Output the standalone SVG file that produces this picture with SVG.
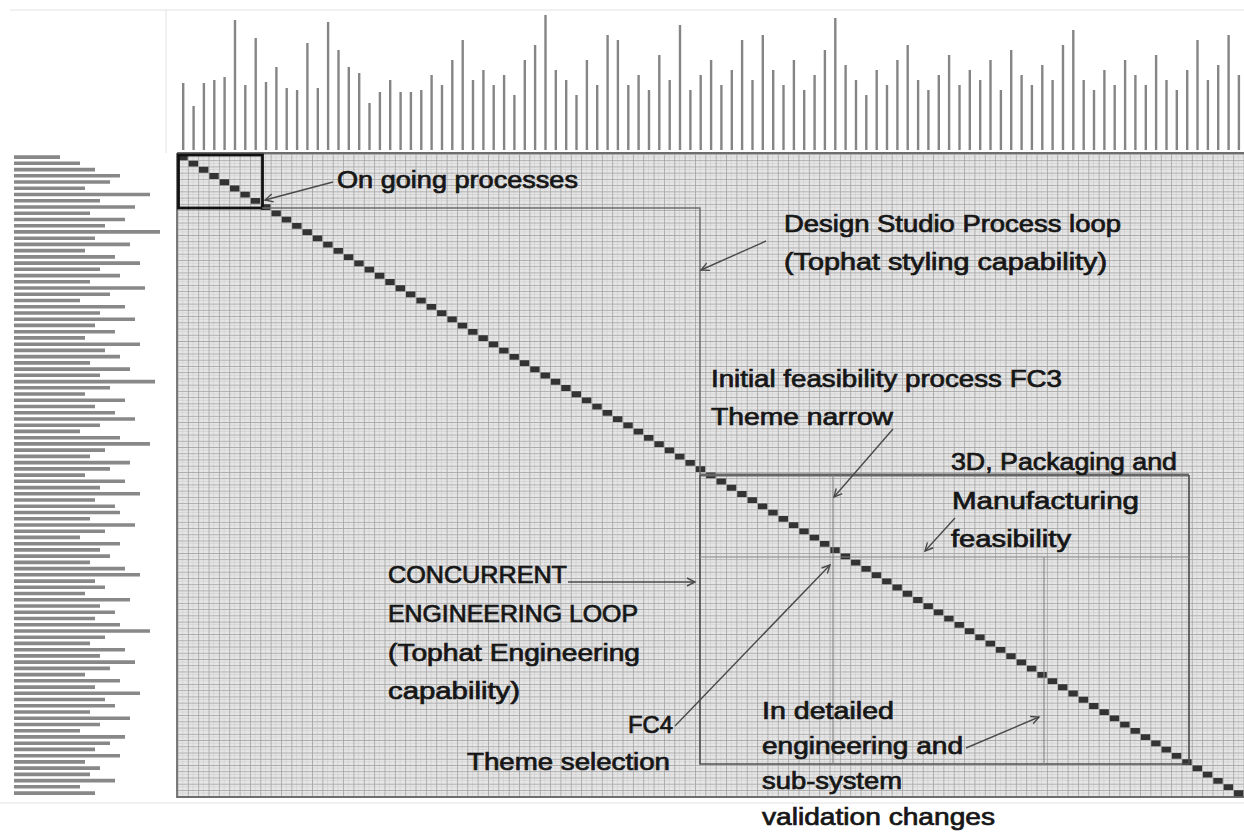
<svg xmlns="http://www.w3.org/2000/svg" width="1244" height="836" viewBox="0 0 1244 836">
<style>
.t{font-family:"Liberation Sans",Arial,sans-serif;font-size:23px;fill:#161616;stroke:#161616;stroke-width:0.7}
.conn{fill:none;stroke:#4a4a4a;stroke-width:1.4}
.blk{fill:none;stroke:#6e6e6e;stroke-width:1.5}
.inner{fill:none;stroke:#858585;stroke-width:1.1}
</style>
<defs>
<pattern id="cell" x="177.5" y="154" width="10.35" height="6.235" patternUnits="userSpaceOnUse">
<rect width="10.35" height="6.235" fill="#e6e6e6"/>
<path d="M5.2 0V6.235M0 3.1H10.35" stroke="#cdcdcd" stroke-width="0.6"/>
<path d="M0 0.4H10.35M0.4 0V6.235" stroke="#9e9e9e" stroke-width="0.8"/>
</pattern>
<marker id="ah" markerUnits="userSpaceOnUse" markerWidth="12" markerHeight="12" refX="9" refY="5" orient="auto">
<path d="M1 1L9 5L1 9" fill="none" stroke="#4a4a4a" stroke-width="1.4"/>
</marker>
</defs>
<rect width="1244" height="836" fill="#ffffff"/>
<g id="frame">
<path d="M10 10H1244M166 10V153M0 803H1244" stroke="#e2e2e2" stroke-width="1" fill="none"/>
</g>
<g id="matrix">
<rect x="177" y="153" width="1067" height="644" fill="url(#cell)"/>
<path d="M177 153V797H1244M177 153H1244" fill="none" stroke="#6e6e6e" stroke-width="1.8"/>
</g>
<g id="column-labels">
<path fill="none" stroke="#858585" stroke-width="2.4" d="M183.2 150V83M193.6 150V106M203.9 150V83M214.3 150V80M224.6 150V77M235.0 150V20M245.3 150V85M255.7 150V38M266.0 150V82M276.4 150V67M286.7 150V88M297.1 150V90M307.4 150V43M317.8 150V88M328.1 150V22M338.5 150V50M348.8 150V67M359.2 150V73M369.5 150V103M379.9 150V92M390.2 150V80M400.6 150V92M410.9 150V92M421.3 150V90M431.6 150V75M442.0 150V85M452.3 150V60M462.7 150V40M473.0 150V80M483.4 150V70M493.7 150V85M504.1 150V75M514.4 150V95M524.8 150V60M535.1 150V45M545.5 150V15M555.8 150V70M566.2 150V80M576.5 150V95M586.9 150V60M597.2 150V85M607.6 150V35M617.9 150V40M628.3 150V85M638.6 150V75M649.0 150V90M659.3 150V55M669.7 150V80M680.0 150V25M690.4 150V90M700.7 150V75M711.1 150V60M721.4 150V85M731.8 150V70M742.1 150V40M752.5 150V80M762.8 150V35M773.2 150V70M783.5 150V85M793.9 150V60M804.2 150V90M814.6 150V75M824.9 150V50M835.3 150V18M845.6 150V65M856.0 150V80M866.3 150V95M876.7 150V70M887.0 150V85M897.4 150V60M907.7 150V45M918.1 150V80M928.4 150V90M938.8 150V75M949.1 150V55M959.5 150V85M969.8 150V70M980.2 150V80M990.5 150V60M1000.9 150V90M1011.2 150V50M1021.6 150V75M1031.9 150V85M1042.3 150V65M1052.6 150V80M1063.0 150V45M1073.3 150V30M1083.7 150V80M1094.0 150V90M1104.4 150V70M1114.7 150V85M1125.1 150V60M1135.4 150V75M1145.8 150V85M1156.1 150V55M1166.5 150V80M1176.8 150V90M1187.2 150V70M1197.5 150V40M1207.9 150V80M1218.2 150V65M1228.6 150V35M1238.9 150V75"/>
</g>
<g id="row-labels">
<path fill="none" stroke="#888888" stroke-width="3.6" d="M14 157.1H60M14 163.3H80M14 169.6H95M14 175.8H120M14 182.0H110M14 188.3H85M14 194.5H150M14 200.7H100M14 207.0H135M14 213.2H90M14 219.5H125M14 225.7H105M14 231.9H160M14 238.2H95M14 244.4H130M14 250.6H85M14 256.9H115M14 263.1H140M14 269.3H100M14 275.6H120M14 281.8H90M14 288.0H145M14 294.3H110M14 300.5H80M14 306.7H125M14 313.0H100M14 319.2H135M14 325.4H95M14 331.7H115M14 337.9H85M14 344.2H140M14 350.4H105M14 356.6H120M14 362.9H90M14 369.1H130M14 375.3H100M14 381.6H155M14 387.8H110M14 394.0H85M14 400.3H125M14 406.5H95M14 412.7H115M14 419.0H135M14 425.2H100M14 431.4H80M14 437.7H120M14 443.9H150M14 450.1H105M14 456.4H90M14 462.6H130M14 468.9H110M14 475.1H85M14 481.3H125M14 487.6H100M14 493.8H140M14 500.0H95M14 506.3H115M14 512.5H120M14 518.7H90M14 525.0H135M14 531.2H105M14 537.4H80M14 543.7H120M14 549.9H100M14 556.1H110M14 562.4H90M14 568.6H125M14 574.8H140M14 581.1H95M14 587.3H105M14 593.5H85M14 599.8H130M14 606.0H100M14 612.3H115M14 618.5H95M14 624.7H120M14 631.0H150M14 637.2H105M14 643.4H90M14 649.7H125M14 655.9H100M14 662.1H135M14 668.4H110M14 674.6H85M14 680.8H120M14 687.1H95M14 693.3H140M14 699.5H105M14 705.8H115M14 712.0H90M14 718.2H130M14 724.5H100M14 730.7H80M14 736.9H125M14 743.2H110M14 749.4H95M14 755.7H120M14 761.9H85M14 768.1H100M14 774.4H90M14 780.6H115M14 786.8H80M14 793.1H95"/>
</g>
<g id="diagonal">
<path fill="#333333" d="M178.3 154.4h9.4v5.8h-9.4z
m10.35 6.235h9.4v5.8h-9.4z m10.35 6.235h9.4v5.8h-9.4z m10.35 6.235h9.4v5.8h-9.4z m10.35 6.235h9.4v5.8h-9.4z m10.35 6.235h9.4v5.8h-9.4z m10.35 6.235h9.4v5.8h-9.4z m10.35 6.235h9.4v5.8h-9.4z m10.35 6.235h9.4v5.8h-9.4z m10.35 6.235h9.4v5.8h-9.4z m10.35 6.235h9.4v5.8h-9.4z
m10.35 6.235h9.4v5.8h-9.4z m10.35 6.235h9.4v5.8h-9.4z m10.35 6.235h9.4v5.8h-9.4z m10.35 6.235h9.4v5.8h-9.4z m10.35 6.235h9.4v5.8h-9.4z m10.35 6.235h9.4v5.8h-9.4z m10.35 6.235h9.4v5.8h-9.4z m10.35 6.235h9.4v5.8h-9.4z m10.35 6.235h9.4v5.8h-9.4z m10.35 6.235h9.4v5.8h-9.4z
m10.35 6.235h9.4v5.8h-9.4z m10.35 6.235h9.4v5.8h-9.4z m10.35 6.235h9.4v5.8h-9.4z m10.35 6.235h9.4v5.8h-9.4z m10.35 6.235h9.4v5.8h-9.4z m10.35 6.235h9.4v5.8h-9.4z m10.35 6.235h9.4v5.8h-9.4z m10.35 6.235h9.4v5.8h-9.4z m10.35 6.235h9.4v5.8h-9.4z m10.35 6.235h9.4v5.8h-9.4z
m10.35 6.235h9.4v5.8h-9.4z m10.35 6.235h9.4v5.8h-9.4z m10.35 6.235h9.4v5.8h-9.4z m10.35 6.235h9.4v5.8h-9.4z m10.35 6.235h9.4v5.8h-9.4z m10.35 6.235h9.4v5.8h-9.4z m10.35 6.235h9.4v5.8h-9.4z m10.35 6.235h9.4v5.8h-9.4z m10.35 6.235h9.4v5.8h-9.4z m10.35 6.235h9.4v5.8h-9.4z
m10.35 6.235h9.4v5.8h-9.4z m10.35 6.235h9.4v5.8h-9.4z m10.35 6.235h9.4v5.8h-9.4z m10.35 6.235h9.4v5.8h-9.4z m10.35 6.235h9.4v5.8h-9.4z m10.35 6.235h9.4v5.8h-9.4z m10.35 6.235h9.4v5.8h-9.4z m10.35 6.235h9.4v5.8h-9.4z m10.35 6.235h9.4v5.8h-9.4z m10.35 6.235h9.4v5.8h-9.4z
m10.35 6.235h9.4v5.8h-9.4z m10.35 6.235h9.4v5.8h-9.4z m10.35 6.235h9.4v5.8h-9.4z m10.35 6.235h9.4v5.8h-9.4z m10.35 6.235h9.4v5.8h-9.4z m10.35 6.235h9.4v5.8h-9.4z m10.35 6.235h9.4v5.8h-9.4z m10.35 6.235h9.4v5.8h-9.4z m10.35 6.235h9.4v5.8h-9.4z m10.35 6.235h9.4v5.8h-9.4z
m10.35 6.235h9.4v5.8h-9.4z m10.35 6.235h9.4v5.8h-9.4z m10.35 6.235h9.4v5.8h-9.4z m10.35 6.235h9.4v5.8h-9.4z m10.35 6.235h9.4v5.8h-9.4z m10.35 6.235h9.4v5.8h-9.4z m10.35 6.235h9.4v5.8h-9.4z m10.35 6.235h9.4v5.8h-9.4z m10.35 6.235h9.4v5.8h-9.4z m10.35 6.235h9.4v5.8h-9.4z
m10.35 6.235h9.4v5.8h-9.4z m10.35 6.235h9.4v5.8h-9.4z m10.35 6.235h9.4v5.8h-9.4z m10.35 6.235h9.4v5.8h-9.4z m10.35 6.235h9.4v5.8h-9.4z m10.35 6.235h9.4v5.8h-9.4z m10.35 6.235h9.4v5.8h-9.4z m10.35 6.235h9.4v5.8h-9.4z m10.35 6.235h9.4v5.8h-9.4z m10.35 6.235h9.4v5.8h-9.4z
m10.35 6.235h9.4v5.8h-9.4z m10.35 6.235h9.4v5.8h-9.4z m10.35 6.235h9.4v5.8h-9.4z m10.35 6.235h9.4v5.8h-9.4z m10.35 6.235h9.4v5.8h-9.4z m10.35 6.235h9.4v5.8h-9.4z m10.35 6.235h9.4v5.8h-9.4z m10.35 6.235h9.4v5.8h-9.4z m10.35 6.235h9.4v5.8h-9.4z m10.35 6.235h9.4v5.8h-9.4z
m10.35 6.235h9.4v5.8h-9.4z m10.35 6.235h9.4v5.8h-9.4z m10.35 6.235h9.4v5.8h-9.4z m10.35 6.235h9.4v5.8h-9.4z m10.35 6.235h9.4v5.8h-9.4z m10.35 6.235h9.4v5.8h-9.4z m10.35 6.235h9.4v5.8h-9.4z m10.35 6.235h9.4v5.8h-9.4z m10.35 6.235h9.4v5.8h-9.4z m10.35 6.235h9.4v5.8h-9.4z
m10.35 6.235h9.4v5.8h-9.4z m10.35 6.235h9.4v5.8h-9.4z"/>
</g>
<g id="ongoing-processes">
<rect x="178.5" y="155" width="84" height="53" fill="none" stroke="#111111" stroke-width="2.8"/>
<text class="t" x="337" y="188" textLength="241" lengthAdjust="spacingAndGlyphs">On going processes</text>
</g>
<g id="design-studio-loop">
<path class="blk" d="M262 208H700V475"/>
<text class="t" x="784" y="232" textLength="337" lengthAdjust="spacingAndGlyphs">Design Studio Process loop</text>
<text class="t" x="784" y="270" textLength="323" lengthAdjust="spacingAndGlyphs">(Tophat styling capability)</text>
</g>
<g id="initial-feasibility">
<text class="t" x="711" y="387" textLength="351" lengthAdjust="spacingAndGlyphs">Initial feasibility process FC3</text>
<text class="t" x="711" y="425" textLength="182" lengthAdjust="spacingAndGlyphs">Theme narrow</text>
</g>
<g id="concurrent-engineering-loop">
<path d="M700 475H1189" fill="none" stroke="#666666" stroke-width="2.8"/>
<path d="M700 475V764H1189V475" fill="none" stroke="#505050" stroke-width="1.7"/>
<path class="inner" d="M833 475V764M700 557H1189M1044 557V764"/>
<text class="t" x="388" y="583" textLength="179" lengthAdjust="spacingAndGlyphs">CONCURRENT</text>
<text class="t" x="388" y="622" textLength="250" lengthAdjust="spacingAndGlyphs">ENGINEERING LOOP</text>
<text class="t" x="388" y="661" textLength="252" lengthAdjust="spacingAndGlyphs">(Tophat Engineering</text>
<text class="t" x="388" y="699" textLength="132" lengthAdjust="spacingAndGlyphs">capability)</text>
</g>
<g id="packaging-feasibility">
<text class="t" x="951" y="470" textLength="226" lengthAdjust="spacingAndGlyphs">3D, Packaging and</text>
<text class="t" x="952" y="509" textLength="187" lengthAdjust="spacingAndGlyphs">Manufacturing</text>
<text class="t" x="951" y="547" textLength="120" lengthAdjust="spacingAndGlyphs">feasibility</text>
</g>
<g id="fc4-theme-selection">
<text class="t" x="628" y="733" textLength="45" lengthAdjust="spacingAndGlyphs">FC4</text>
<text class="t" x="467" y="770" textLength="203" lengthAdjust="spacingAndGlyphs">Theme selection</text>
</g>
<g id="detailed-engineering">
<text class="t" x="762" y="719" textLength="132" lengthAdjust="spacingAndGlyphs">In detailed</text>
<text class="t" x="762" y="754" textLength="201" lengthAdjust="spacingAndGlyphs">engineering and</text>
<text class="t" x="762" y="789" textLength="140" lengthAdjust="spacingAndGlyphs">sub-system</text>
<text class="t" x="762" y="825" textLength="233" lengthAdjust="spacingAndGlyphs">validation changes</text>
</g>
<g id="connectors">
<path class="conn" marker-end="url(#ah)" d="M333 182L265 200"/>
<path class="conn" marker-end="url(#ah)" d="M766 241L701 270"/>
<path class="conn" marker-end="url(#ah)" d="M893 429L834 497"/>
<path class="conn" marker-end="url(#ah)" d="M955 518L925 551"/>
<path class="conn" marker-end="url(#ah)" d="M568 582L695 582"/>
<path class="conn" marker-end="url(#ah)" d="M675 726L830 565"/>
<path class="conn" marker-end="url(#ah)" d="M966 748L1039 717"/>
</g>
</svg>
